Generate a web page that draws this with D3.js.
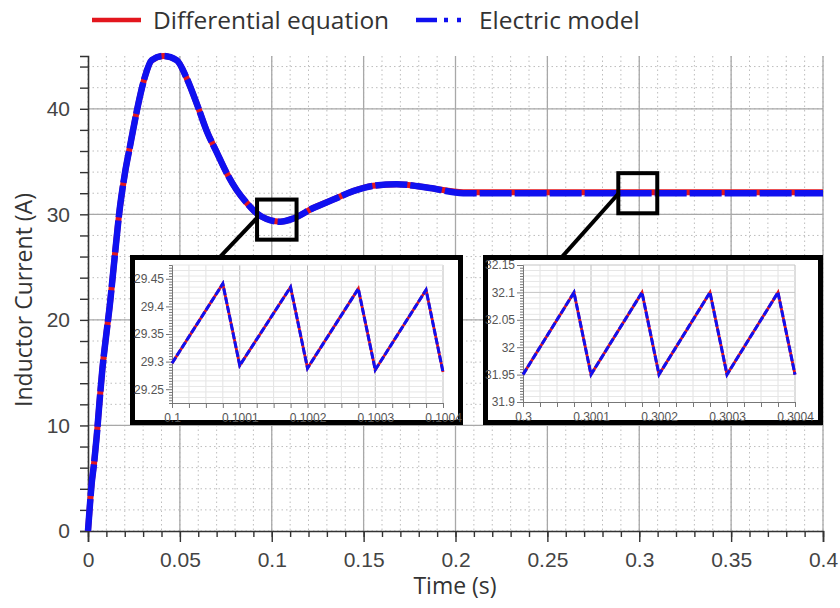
<!DOCTYPE html>
<html>
<head>
<meta charset="utf-8">
<script src="https://cdn.jsdelivr.net/npm/d3@7.9.0/dist/d3.min.js"></script>
<style>
  html, body { margin: 0; padding: 0; background: #fff; }
  svg { display: block; font-family: "Open Sans", "Noto Sans", sans-serif; }
</style>
</head>
<body>
<svg id="chart" width="840" height="608"></svg>
<script>
// main response
const timeMain = [0, 0.0011, 0.002, 0.0033, 0.0047, 0.0062, 0.0078, 0.0098, 0.012, 0.0138,
  0.0174, 0.0201, 0.0228, 0.0256, 0.0283, 0.031, 0.0347, 0.041, 0.0483, 0.0537, 0.06,
  0.0646, 0.070, 0.0755, 0.0809, 0.0863, 0.0918, 0.0972, 0.1045, 0.1117, 0.1226, 0.1335,
  0.1443, 0.1552, 0.168, 0.186, 0.2042, 0.25, 0.3, 0.35, 0.4];
const currentDiff = [0, 2.6, 4.5, 6.4, 8.9, 12.1, 15.3, 18.4, 21.6, 24.7,
  30.7, 33.9, 36.4, 38.95, 41.2, 43.05, 44.6, 45.0, 44.6, 42.9, 40.1,
  37.9, 35.9, 33.9, 32.3, 31.1, 30.1, 29.55, 29.3, 29.6, 30.6, 31.4,
  32.2, 32.7, 32.85, 32.5, 32.1, 32.1, 32.1, 32.1, 32.1];
const currentElec = [0, 2.6, 4.5, 6.4, 8.9, 12.1, 15.3, 18.4, 21.6, 24.7,
  30.7, 33.9, 36.4, 38.95, 41.2, 43.05, 44.6, 45.0, 44.6, 42.9, 40.1,
  37.9, 35.9, 33.9, 32.3, 31.1, 30.1, 29.55, 29.3, 29.6, 30.6, 31.4,
  32.2, 32.7, 32.85, 32.5, 32.0, 32.0, 32.0, 32.0, 32.0];

// zoomed ripple around t = 0.1 s and t = 0.3 s
const timeZoomA = [0.1, 0.100075, 0.1001, 0.100175, 0.1002, 0.100275, 0.1003, 0.100375, 0.1004];
const currentZoomA = [29.297, 29.441, 29.293, 29.435, 29.288, 29.432, 29.285, 29.43, 29.281];
const timeZoomB = [0.3, 0.300075, 0.3001, 0.300175, 0.3002, 0.300275, 0.3003, 0.300375, 0.3004];
const currentZoomB = [31.95, 32.1, 31.95, 32.1, 31.95, 32.1, 31.95, 32.1, 31.95];

const xTicks = [0, 0.05, 0.1, 0.15, 0.2, 0.25, 0.3, 0.35, 0.4];
const yTicks = [0, 10, 20, 30, 40];
const seriesNames = ['Differential equation', 'Electric model'];

const RED = '#e3161d', BLUE = '#1010f0';

const svg = d3.select('#chart');

const x = d3.scaleLinear().domain([0, 0.4]).range([88, 823]);
const y = d3.scaleLinear().domain([0, 45]).range([531, 56]);

// grid
const grid = svg.append('g');
grid.selectAll('line.vmin').data(d3.range(0, 41).map(i => i / 100)).join('line')
  .attr('x1', d => x(d)).attr('x2', d => x(d)).attr('y1', y(45)).attr('y2', y(0))
  .attr('stroke', '#bdbdbd').attr('stroke-width', 1).attr('stroke-dasharray', '1.5,3');
grid.selectAll('line.hmin').data(d3.range(0, 46, 2)).join('line')
  .attr('x1', x(0)).attr('x2', x(0.4)).attr('y1', d => y(d)).attr('y2', d => y(d))
  .attr('stroke', '#bdbdbd').attr('stroke-width', 1).attr('stroke-dasharray', '1.5,3');
svg.append('g').selectAll('line').data(xTicks.slice(1)).join('line')
  .attr('x1', d => x(d)).attr('x2', d => x(d)).attr('y1', y(45)).attr('y2', y(0))
  .attr('stroke', '#a8a8a8').attr('stroke-width', 1.3);
svg.append('g').selectAll('line').data(yTicks.slice(1)).join('line')
  .attr('x1', x(0)).attr('x2', x(0.4)).attr('y1', d => y(d)).attr('y2', d => y(d))
  .attr('stroke', '#a8a8a8').attr('stroke-width', 1.3);

// axes
const xAxis = svg.append('g').attr('transform', `translate(0,${y(0)})`)
  .call(d3.axisBottom(x).tickValues(xTicks).tickSize(11).tickPadding(10).tickFormat(d => String(d)));
svg.append('g').attr('transform', `translate(0,${y(0)})`)
  .call(d3.axisBottom(x).tickValues(d3.range(0, 41).map(i => i / 100)).tickSize(6).tickFormat(''))
  .call(g => g.select('.domain').remove());
const yAxis = svg.append('g').attr('transform', `translate(${x(0)},0)`)
  .call(d3.axisLeft(y).tickValues(d3.range(0, 46, 2)).tickSize(8).tickPadding(10)
    .tickFormat(d => d % 10 === 0 ? d : ''));
[xAxis, yAxis].forEach(g => {
  g.select('.domain').attr('stroke', '#333').attr('stroke-width', 1.6);
  g.selectAll('.tick line').attr('stroke', '#333').attr('stroke-width', 1.4);
  g.selectAll('.tick text').attr('fill', '#444').style('font-size', '21px');
});
svg.selectAll('.tick line').attr('stroke', '#333').attr('stroke-width', 1.4);

svg.append('text').attr('x', 455).attr('y', 594).attr('text-anchor', 'middle')
  .attr('fill', '#333').style('font-size', '23px').text('Time (s)');
svg.append('text').attr('transform', 'translate(32,300) rotate(-90)').attr('text-anchor', 'middle')
  .attr('fill', '#333').style('font-size', '23px').text('Inductor Current (A)');

// curves
const mainLine = vals => d3.line().x((d, i) => x(timeMain[i])).y(d => y(d)).curve(d3.curveMonotoneX)(vals);
svg.append('path').attr('d', mainLine(currentDiff)).attr('fill', 'none')
  .attr('stroke', RED).attr('stroke-width', 6).attr('stroke-linejoin', 'round');
svg.append('path').attr('d', mainLine(currentElec)).attr('fill', 'none')
  .attr('stroke', BLUE).attr('stroke-width', 6.5).attr('stroke-dasharray', '32,3');

// zoom windows on the main curve
const zoomBoxes = [
  { t0: 0.092, t1: 0.1135, v0: 27.6, v1: 31.4, from: [257, 218], to: [219, 258] },
  { t0: 0.2886, t1: 0.3098, v0: 30.1, v1: 33.9, from: [619, 193], to: [561, 258] }
];
zoomBoxes.forEach(b => {
  svg.append('rect').attr('x', x(b.t0)).attr('y', y(b.v1))
    .attr('width', x(b.t1) - x(b.t0)).attr('height', y(b.v0) - y(b.v1))
    .attr('fill', 'none').attr('stroke', '#000').attr('stroke-width', 4);
  svg.append('line').attr('x1', b.from[0]).attr('y1', b.from[1]).attr('x2', b.to[0]).attr('y2', b.to[1])
    .attr('stroke', '#000').attr('stroke-width', 4);
});

// inset charts
function inset(box, xr, yr, xDom, yDom, ts, vs, yLabels) {
  svg.append('rect').attr('x', box[0]).attr('y', box[1]).attr('width', box[2]).attr('height', box[3])
    .attr('fill', '#fff').attr('stroke', '#000').attr('stroke-width', 5);
  const ix = d3.scaleLinear().domain(xDom).range(xr);
  const iy = d3.scaleLinear().domain(yDom).range(yr);
  const g = svg.append('g');
  const step = 0.000025;
  const xs = d3.range(0, 17).map(i => xDom[0] + i * step);
  const ys = d3.range(0, 26).map(i => yDom[0] + i * 0.01);
  const isLabel = d => yLabels.some(l => Math.abs(l - d) < 1e-6);
  g.selectAll('line.v').data(xs.slice(1)).join('line')
    .attr('x1', d => ix(d)).attr('x2', d => ix(d)).attr('y1', yr[1]).attr('y2', yr[0])
    .attr('stroke', (d, i) => (i + 1) % 4 === 0 ? '#bdbdbd' : '#e2e2e2').attr('stroke-width', 1);
  g.selectAll('line.h').data(ys.slice(1)).join('line')
    .attr('x1', xr[0]).attr('x2', xr[1]).attr('y1', d => iy(d)).attr('y2', d => iy(d))
    .attr('stroke', d => isLabel(d) ? '#c4c4c4' : '#e6e6e6').attr('stroke-width', 1);
  const ax = g.append('g').attr('transform', `translate(0,${yr[0]})`)
    .call(d3.axisBottom(ix).tickValues(xs).tickSize(5).tickPadding(5)
      .tickFormat((d, i) => i % 4 === 0 ? String(+d.toFixed(4)) : ''));
  const ay = g.append('g').attr('transform', `translate(${xr[0]},0)`)
    .call(d3.axisLeft(iy).tickValues(d3.range(0, 51).map(i => yDom[0] + i * 0.005)).tickSize(3).tickPadding(5)
      .tickFormat(d => isLabel(d) ? String(+d.toFixed(2)) : ''));
  ay.selectAll('.tick').filter(d => isLabel(d)).select('line').attr('x2', -6);
  [ax, ay].forEach(a => {
    a.select('.domain').attr('stroke', '#777');
    a.selectAll('.tick line').attr('stroke', '#777');
    a.selectAll('.tick text').attr('fill', '#555').style('font-size', '12px');
  });
  const ln = d3.line().x((d, i) => ix(ts[i])).y(d => iy(d));
  g.append('path').attr('d', ln(vs)).attr('fill', 'none').attr('stroke', RED).attr('stroke-width', 2.8);
  g.append('path').attr('d', ln(vs)).attr('fill', 'none').attr('stroke', BLUE).attr('stroke-width', 3)
    .attr('stroke-dasharray', '7,2');
}
inset([132.5, 257.5, 328, 165], [172, 443], [403, 265], [0.1, 0.1004], [29.225, 29.475],
  timeZoomA, currentZoomA, [29.25, 29.3, 29.35, 29.4, 29.45]);
inset([485.5, 257.5, 335, 165], [523, 795], [402, 265], [0.3, 0.3004], [31.9, 32.15],
  timeZoomB, currentZoomB, [31.9, 31.95, 32, 32.05, 32.1, 32.15]);

// legend
const lg = svg.append('g');
lg.append('line').attr('x1', 92).attr('x2', 141).attr('y1', 20).attr('y2', 20)
  .attr('stroke', RED).attr('stroke-width', 4.5);
lg.append('text').attr('x', 153).attr('y', 29).attr('fill', '#333').style('font-size', '24.5px').text(seriesNames[0]);
lg.append('line').attr('x1', 416).attr('x2', 468).attr('y1', 20).attr('y2', 20)
  .attr('stroke', BLUE).attr('stroke-width', 4.5).attr('stroke-dasharray', '21,7,4,9,4,20');
lg.append('text').attr('x', 479).attr('y', 29).attr('fill', '#333').style('font-size', '24.5px').text(seriesNames[1]);
</script>
</body>
</html>
